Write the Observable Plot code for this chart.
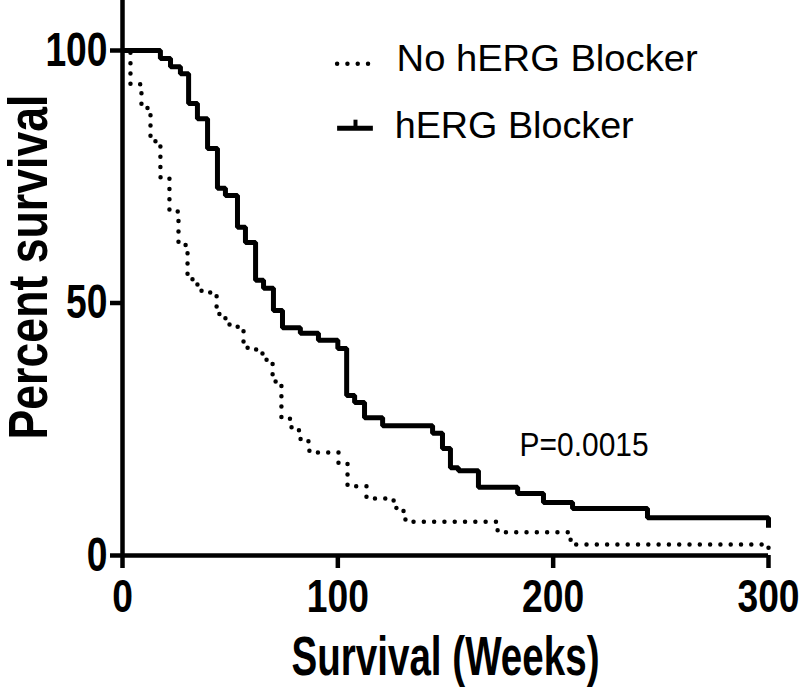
<!DOCTYPE html>
<html>
<head>
<meta charset="utf-8">
<script src="https://cdn.jsdelivr.net/npm/d3@7"></script>
<script src="https://cdn.jsdelivr.net/npm/@observablehq/plot@0.6"></script>
<style>
  html, body { margin: 0; padding: 0; background: #fff; }
  #chart svg { display: block; }
</style>
</head>
<body>
<div id="chart"></div>
<script>
// hERG Blocker (solid)
const hergWeeks = [0, 17.6, 22.3, 26.9, 30.7, 34.8, 39.5, 44.1, 47.8, 53.4, 57.1, 61.8, 65.5, 70.1, 74.3, 82.6, 91, 100, 104.1, 107.8, 112.4, 120.8, 144, 148.6, 152.3, 156, 165.3, 183.5, 195.5, 209, 243.8, 300, 300];
const hergSurv  = [100, 98.4, 96.8, 95.4, 89.5, 86.5, 80.6, 72.7, 71.3, 65, 62, 54.5, 52.9, 48.5, 45.1, 44, 42.6, 41, 31.7, 30.3, 27.3, 25.7, 24.2, 21.2, 17.4, 16.8, 13.5, 12.3, 10.5, 9.3, 7.5, 7.5, 5.5];

// No hERG Blocker (dotted)
const noWeeks = [0, 3.7, 8.8, 11.6, 13.0, 15.3, 17.6, 21.8, 26.0, 29.3, 30.2, 32.5, 34.8, 36.7, 43.7, 45.0, 47.8, 49.7, 56.2, 58.1, 65.0, 66.9, 69.7, 71.1, 73.8, 78.5, 82.7, 86.8, 100.3, 104.5, 113.3, 125.9, 127.2, 130.5, 131.4, 174.2, 208.1, 300, 300];
const noSurv  = [100, 93.3, 88.9, 88.1, 82.4, 81.4, 74.9, 68.1, 61.8, 61.2, 55.0, 54.1, 53.1, 52.1, 48.5, 47.3, 46.5, 45.3, 41.8, 40.8, 39.6, 38.6, 35.2, 33.9, 27.1, 24.8, 22.6, 20.4, 18.2, 13.7, 11.3, 10.5, 8.9, 8.3, 6.7, 4.6, 2.2, 2.2, 1.2];

const xTicks = [0, 100, 200, 300];
const yTicks = [0, 50, 100];
const seriesNames = ["No hERG Blocker", "hERG Blocker"];
const xTitle = "Survival (Weeks)";
const yTitle = "Percent survival";
const pText = "P=0.0015";

const herg = hergWeeks.map((w, i) => ({week: w, surv: hergSurv[i]}));
const noBlock = noWeeks.map((w, i) => ({week: w, surv: noSurv[i]}));

const boldFont = "Liberation Sans, Arial, Helvetica, sans-serif";

const plot = Plot.plot({
  width: 800,
  height: 688,
  marginLeft: 122,
  marginRight: 32,
  marginTop: 50,
  marginBottom: 133,
  style: {fontFamily: boldFont, background: "white", color: "black", overflow: "visible"},
  x: {domain: [0, 300]},
  y: {domain: [0, 100]},
  marks: [
    // curves
    Plot.line(noBlock, {x: "week", y: "surv", curve: "step-after", stroke: "black", strokeWidth: 4.5, strokeDasharray: "0 10.3", strokeLinecap: "round"}),
    Plot.line(herg, {x: "week", y: "surv", curve: "step-after", stroke: "black", strokeWidth: 5, strokeLinejoin: "miter", strokeLinecap: "butt"}),
    // axis lines
    Plot.ruleX([0], {y1: 0, y2: 110, stroke: "black", strokeWidth: 4.5}),
    Plot.ruleY([0], {x1: 0, x2: 300, stroke: "black", strokeWidth: 4.5}),
    // axes
    Plot.axisX({ticks: xTicks, tickSize: 13, tickPadding: 10, strokeWidth: 4.5, fontSize: 47, fontWeight: "bold", label: null, tickFormat: d => String(d)}),
    Plot.axisY({ticks: yTicks, tickSize: 12, tickPadding: 3, strokeWidth: 4.5, fontSize: 48, fontWeight: "bold", label: null, tickFormat: d => String(d)}),
    // axis titles
    Plot.text([xTitle], {frameAnchor: "bottom", dy: 102, fontSize: 56, fontWeight: "bold", lineAnchor: "middle", textAnchor: "middle"}),
    Plot.text([yTitle], {frameAnchor: "left", dx: -93, dy: -36, rotate: -90, fontSize: 55, fontWeight: "bold", lineAnchor: "middle", textAnchor: "middle"}),
    // legend
    Plot.ruleY([97.4], {x1: 99.9, x2: 116.3, stroke: "black", strokeWidth: 4.5, strokeDasharray: "0 10.3", strokeLinecap: "round"}),
    Plot.ruleY([84.6], {x1: 99.9, x2: 116.5, stroke: "black", strokeWidth: 5}),
    Plot.ruleX([108.2], {y1: 84.6, y2: 86.2, stroke: "black", strokeWidth: 4}),
    Plot.text([seriesNames[0]], {x: 127.3, y: 98.2, textAnchor: "start", lineAnchor: "middle", fontSize: 37, fontWeight: "normal"}),
    Plot.text([seriesNames[1]], {x: 126.4, y: 85.0, textAnchor: "start", lineAnchor: "middle", fontSize: 37, fontWeight: "normal"}),
    // p-value
    Plot.text([pText], {x: 184.4, y: 21.8, textAnchor: "start", lineAnchor: "middle", fontSize: 33, fontWeight: "normal"})
  ]
});

// condense text widths to match the reference's narrow typeface
const lengths = {};
lengths[xTitle] = 308;
lengths[yTitle] = 345;
lengths[seriesNames[0]] = 301;
lengths[seriesNames[1]] = 239;
lengths[pText] = 129;
d3.select(plot).selectAll("text").each(function() {
  const t = this.textContent;
  let L = lengths[t];
  if (L == null && /^\d+$/.test(t)) L = t.length * 20.7;
  if (L != null) {
    this.setAttribute("textLength", L);
    this.setAttribute("lengthAdjust", "spacingAndGlyphs");
  }
});

document.getElementById("chart").appendChild(plot);
</script>
</body>
</html>
